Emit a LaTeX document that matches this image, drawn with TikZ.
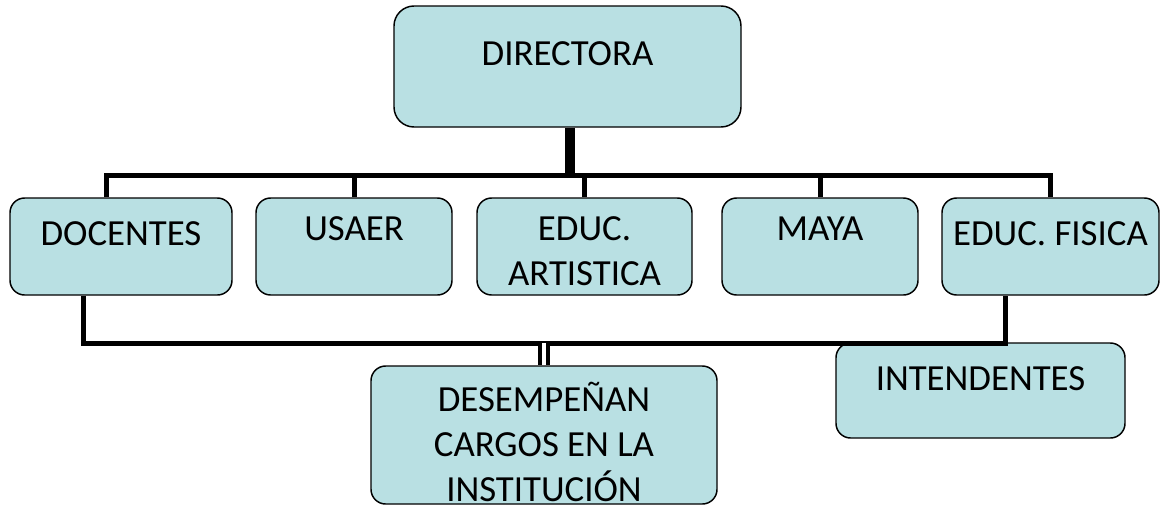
\documentclass[tikz,border=0pt]{standalone}
\usepackage{fontspec}
\setmainfont{Carlito}
\usetikzlibrary{calc}

\definecolor{boxblue}{RGB}{185,224,227}
\tikzset{
  box/.style={draw=black, line width=1.1pt, fill=boxblue, rounded corners=11pt, inner sep=0pt, align=center, font=\fontsize{27.6}{33.75}\selectfont},
  link/.style={line width=3.75pt},
  stem/.style={line width=7.5pt},
  twin/.style={line width=3.4pt, double=white, double distance=2.6pt}
}

\begin{document}
\begin{tikzpicture}[x=0.75pt, y=-0.75pt]
            \useasboundingbox (0,0) rectangle (1161,508);

            \node[box, rounded corners=15pt, minimum width=260.25pt, text height=44.25pt, text depth=46.5pt] (dir) at (567.5,66.5) {DIRECTORA};

            \foreach \n/\cx/\w/\th/\td/\txt in {doc/121/166.5/35.25/37.5/DOCENTES, usa/354/147/31.5/41.25/USAER, art/584.5/161.25/65.25/7.5/{EDUC.\\ARTISTICA}, may/820/147/31.5/41.25/MAYA, fis/1050.5/162.75/35.25/37.5/EDUC. FISICA} {
                \node[box, minimum width=\w pt, text height=\th pt, text depth=\td pt] (\n) at (\cx,246.5) {\txt};
            }

            \node[box, minimum width=259.5pt, text height=101.25pt, text depth=2.25pt] (des) at (544,435) {DESEMPEÑAN\\CARGOS EN LA\\INSTITUCIÓN};
            \node[box, minimum width=216.75pt, text height=35.25pt, text depth=36pt] (int) at (980.5,390.5) {INTENDENTES};

            \coordinate (bus) at (570,175);
            \coordinate (low) at (544,343);

            \draw[stem] ([xshift=1.875pt]dir.south) -- ([xshift=1.875pt]dir.south |- bus);
            \draw[link] ([xshift=-11.25pt]doc.north) |- (bus) -| (fis.north);
            \foreach \n in {usa, art, may} {
                \draw[link] (\n.north) -- (\n.north |- bus);
            }

            \draw[link] ([xshift=-28.5pt]doc.south) |- (low) -| ([xshift=-34.125pt]fis.south);
            \draw[twin] (low) -- (des.north);
        \end{tikzpicture}
\end{document}
